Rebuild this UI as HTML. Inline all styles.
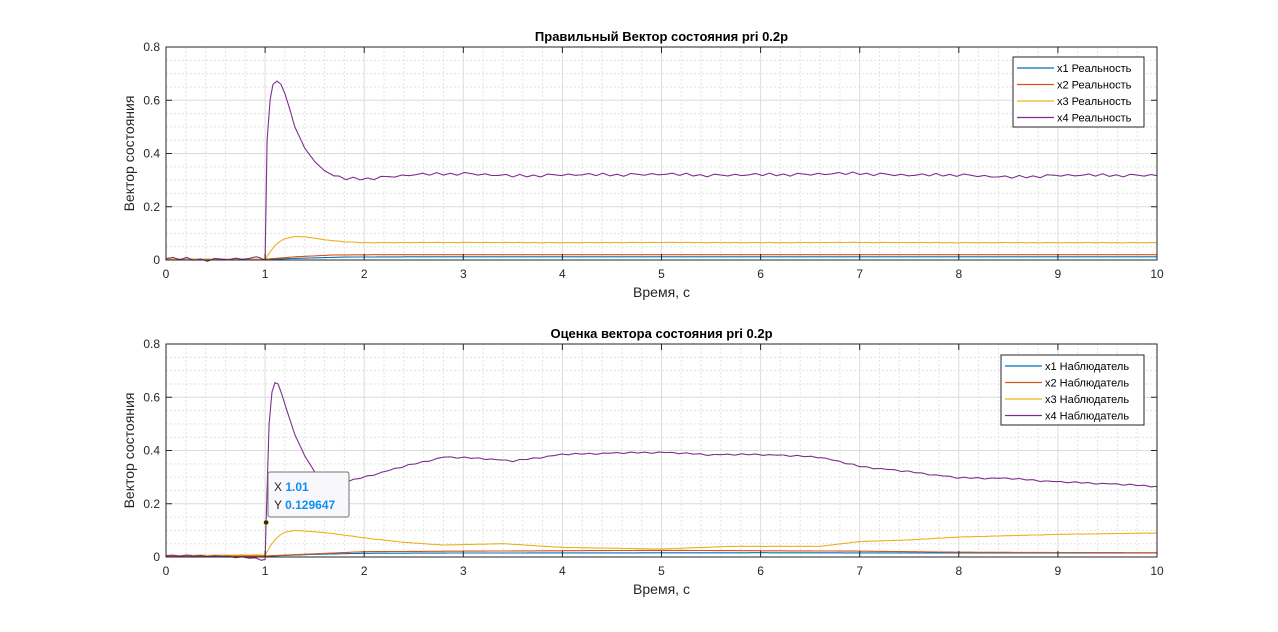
<!DOCTYPE html>
<html><head><meta charset="utf-8"><style>
html,body{margin:0;padding:0;background:#fff;}
svg text{font-family:"Liberation Sans",Arial,sans-serif;}
</style></head><body>
<svg id="fig" width="1278" height="627" viewBox="0 0 1278 627" xmlns="http://www.w3.org/2000/svg"></svg>
<script>
// ---- data (top plot: real state) ----
const topX1T=[0,0.9,1.0,1.3,1.8,2.5,10];
const topX1V=[0.002,0.002,0.002,0.006,0.011,0.012,0.012];
const topX2T=[0,0.9,1.0,1.3,1.7,2.2,10];
const topX2V=[0.003,0.003,0.003,0.012,0.019,0.02,0.02];
const topX3T=[0,1.0,1.05,1.1,1.15,1.2,1.3,1.4,1.5,1.6,1.8,2.0,3,4,5,6,7,8,9,10];
const topX3V=[0.003,0.003,0.03,0.055,0.07,0.08,0.088,0.087,0.082,0.076,0.068,0.065,0.066,0.065,0.066,0.065,0.066,0.065,0.065,0.065];
const topX4T=[0,0.2,0.4,0.6,0.8,0.95,1.0,1.02,1.05,1.08,1.12,1.16,1.2,1.25,1.3,1.4,1.5,1.6,1.7,1.8,2.0,2.5,3,3.5,4,4.5,5,5.5,6,6.5,7,7.5,8,8.5,9,9.5,10];
const topX4V=[0.005,0.004,0.001,0.003,0.005,0.008,0.0,0.45,0.6,0.66,0.672,0.66,0.625,0.565,0.5,0.42,0.37,0.335,0.315,0.305,0.305,0.32,0.325,0.315,0.32,0.32,0.322,0.318,0.32,0.322,0.325,0.318,0.32,0.31,0.318,0.318,0.318];
// ---- data (bottom plot: observer) ----
const botX1T=[0,1.0,1.5,2.0,3,6,8,10];
const botX1V=[0.003,0.003,0.01,0.014,0.015,0.016,0.015,0.015];
const botX2T=[0,1.0,1.5,2.0,3,5,7,8,10];
const botX2V=[0.004,0.004,0.012,0.02,0.022,0.025,0.022,0.018,0.016];
const botX3T=[0,1.0,1.05,1.1,1.15,1.2,1.3,1.6,2.0,2.4,2.8,3.4,4.0,5.0,5.7,6.6,7.0,7.5,8.0,9.0,10];
const botX3V=[0.006,0.008,0.04,0.065,0.082,0.093,0.1,0.092,0.072,0.055,0.045,0.05,0.036,0.03,0.04,0.04,0.058,0.064,0.075,0.085,0.09];
const botX4T=[0,0.5,0.9,0.95,1.0,1.01,1.04,1.07,1.1,1.13,1.17,1.22,1.3,1.4,1.5,1.6,1.8,2.0,2.4,2.8,3.2,3.5,4.0,4.5,5.0,5.5,6.0,6.6,7.0,7.5,8.0,8.5,9.0,9.5,10];
const botX4V=[0.005,0.004,-0.005,-0.01,-0.01,0.129647,0.5,0.62,0.655,0.65,0.61,0.55,0.46,0.38,0.32,0.28,0.28,0.3,0.34,0.375,0.37,0.36,0.385,0.39,0.393,0.384,0.385,0.375,0.34,0.32,0.297,0.295,0.282,0.275,0.265];
const xTicks=[0,1,2,3,4,5,6,7,8,9,10];
const yTicks=[0,0.2,0.4,0.6,0.8];
const noiseTop=[0,0.005,-0.003,0.006,-0.004,0.002,-0.006,0.004,0.001,-0.003,0.003,-0.002];
const noiseBot=[0,0.002,-0.002,0.003,-0.001,0.002,-0.003,0.001];

const NS="http://www.w3.org/2000/svg";
const svg=document.getElementById('fig');
const colors=['#0072BD','#D95319','#EDB120','#7E2F8E'];
function mk(tag,attrs,parent){const e=document.createElementNS(NS,tag);for(const k in attrs)e.setAttribute(k,attrs[k]);(parent||svg).appendChild(e);return e;}
function interp(T,V,t){if(t<=T[0])return V[0];for(let i=1;i<T.length;i++){if(t<=T[i]){const f=(t-T[i-1])/(T[i]-T[i-1]);return V[i-1]+f*(V[i]-V[i-1]);}}return V[V.length-1];}
function smoothNoise(noise,k){const step=7;const i=Math.floor(k/step),f=(k%step)/step;const a=noise[i%noise.length],b=noise[(i+1)%noise.length];return a+(b-a)*f;}

function axes(y0,title,series,legendNames,noise,legendY,lw){
  const L=166,R=1157,T=y0,B=y0+213;
  const sx=v=>L+(v/10)*(R-L);
  const sy=v=>B-(v/0.8)*(B-T);
  const g=mk('g',{});
  
  
  mk('rect',{x:L,y:T,width:R-L,height:B-T,fill:'#fff'},g);
  for(let i=0;i<=50;i++){if(i%5===0)continue;const x=sx(i*0.2);mk('line',{x1:x,x2:x,y1:T,y2:B,stroke:'#e3e3e3','stroke-dasharray':'2,2','stroke-width':1},g);}
  for(let i=0;i<=16;i++){if(i%4===0)continue;const y=sy(i*0.05);mk('line',{x1:L,x2:R,y1:y,y2:y,stroke:'#e3e3e3','stroke-dasharray':'2,2','stroke-width':1},g);}
  xTicks.forEach(v=>{const x=sx(v);mk('line',{x1:x,x2:x,y1:T,y2:B,stroke:'#dcdcdc'},g);});
  yTicks.forEach(v=>{const y=sy(v);mk('line',{x1:L,x2:R,y1:y,y2:y,stroke:'#dcdcdc'},g);});
  series.forEach((s,si)=>{
    let d='';
    for(let k=0;k<=1000;k++){const t=k*0.01;let v=interp(s[0],s[1],t);
      if(si===3||si===2){const a=si===3?1:0.15;v+=a*smoothNoise(noise,k)*((t<0.98||t>1.7)?1:0);}
      d+=(k?'L':'M')+sx(t).toFixed(1)+','+sy(v).toFixed(1);}
    const p=mk('path',{d:d,fill:'none',stroke:colors[si],'stroke-width':1.1,'stroke-linejoin':'round'},g);
    
    
  });
  mk('rect',{x:L,y:T,width:R-L,height:B-T,fill:'none',stroke:'#262626','stroke-width':1},g);
  xTicks.forEach(v=>{const x=sx(v);mk('line',{x1:x,x2:x,y1:B,y2:B-6,stroke:'#262626'},g);mk('line',{x1:x,x2:x,y1:T,y2:T+6,stroke:'#262626'},g);
    const t=mk('text',{x:x,y:B+18,'font-size':12,'text-anchor':'middle',fill:'#262626'},g);t.textContent=v;});
  yTicks.forEach(v=>{const y=sy(v);mk('line',{x1:L,x2:L+6,y1:y,y2:y,stroke:'#262626'},g);mk('line',{x1:R,x2:R-6,y1:y,y2:y,stroke:'#262626'},g);
    const t=mk('text',{x:L-6,y:y+4,'font-size':12,'text-anchor':'end',fill:'#262626'},g);t.textContent=v===0?'0':String(v);});
  const tt=mk('text',{x:(L+R)/2,y:T-6,'font-size':13,'font-weight':'bold','text-anchor':'middle',fill:'#000'},g);tt.textContent=title;
  
  const xl=mk('text',{x:(L+R)/2,y:B+37,'font-size':14,'text-anchor':'middle',fill:'#262626'},g);xl.textContent='Время, с';
  
  const yl=mk('text',{x:0,y:0,'font-size':14,'text-anchor':'middle',fill:'#262626',transform:`translate(${L-32},${(T+B)/2}) rotate(-90)`},g);yl.textContent='Вектор состояния';
  
  const lx=1144-lw;
  const lg=mk('g',{},g);
  
  mk('rect',{x:lx,y:legendY,width:lw,height:70,fill:'#fff',stroke:'#262626'},lg);
  legendNames.forEach((n,i)=>{const y=legendY+11+i*16.5;
    const e=mk('g',{},lg);
    mk('line',{x1:lx+4,x2:lx+41,y1:y,y2:y,stroke:colors[i],'stroke-width':1.2},e);
    const t=mk('text',{x:lx+44,y:y+4,'font-size':11,fill:'#000'},e);t.textContent=n;});
  return {sx,sy};
}

axes(47,'Правильный Вектор состояния pri 0.2p',
  [[topX1T,topX1V],[topX2T,topX2V],[topX3T,topX3V],[topX4T,topX4V]],
  ['x1 Реальность','x2 Реальность','x3 Реальность','x4 Реальность'],noiseTop,57,131);
const b=axes(344,'Оценка вектора состояния pri 0.2p',
  [[botX1T,botX1V],[botX2T,botX2V],[botX3T,botX3V],[botX4T,botX4V]],
  ['x1 Наблюдатель','x2 Наблюдатель','x3 Наблюдатель','x4 Наблюдатель'],noiseBot,355,143);
const tipX=1.01, tipY=0.129647;
const px=b.sx(tipX), py=b.sy(tipY);
const tip=mk('g',{});


mk('rect',{x:268,y:472,width:81,height:45,rx:2,fill:'#f8f8fc',stroke:'#737373'},tip);
const t1=mk('text',{x:274,y:491,'font-size':12,fill:'#262626'},tip);t1.innerHTML='X <tspan font-weight="bold" fill="#0a90f0">'+tipX+'</tspan>';
const t2=mk('text',{x:274,y:509,'font-size':12,fill:'#262626'},tip);t2.innerHTML='Y <tspan font-weight="bold" fill="#0a90f0">'+tipY+'</tspan>';
mk('circle',{cx:px,cy:py,r:2.5,fill:'#262626',stroke:'#e8e040','stroke-width':0.6},tip);
</script>
</body></html>
